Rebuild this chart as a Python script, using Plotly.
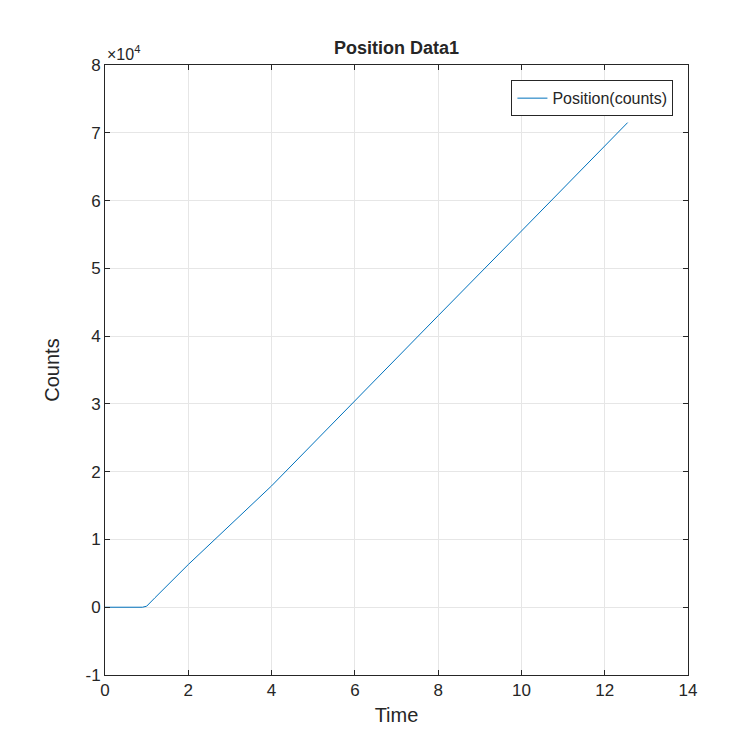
import plotly.graph_objects as go

time = [0, 0.3, 0.6, 0.9, 1.0, 1.2, 1.5, 2, 4, 6, 8, 10, 12.55]
counts = [0, -50, 0, 0, 150, 1400, 3200, 6300, 17900, 30500, 43000, 55500, 71500]
y_ticks = [-10000, 0, 10000, 20000, 30000, 40000, 50000, 60000, 70000, 80000]
y_labels = ["-1", "0", "1", "2", "3", "4", "5", "6", "7", "8"]

fig = go.Figure()
fig.add_trace(go.Scatter(x=time, y=counts, mode="lines", name="Position(counts)",
                         showlegend=True, line=dict(color="#0072BD", width=1)))

axis_style = dict(showline=True, linecolor="#262626", mirror="ticks", ticks="inside",
                  ticklen=5, tickcolor="#262626", showgrid=True, gridcolor="#e6e6e6",
                  zeroline=False, automargin=False, tickfont=dict(size=17, color="#262626"))
fig.update_xaxes(range=[0, 14], dtick=2,
                 title=dict(text="Time", font=dict(size=20, color="#262626"), standoff=8),
                 **axis_style)
fig.update_yaxes(range=[-10000, 80000], tickvals=y_ticks, ticktext=y_labels,
                 title=dict(text="Counts", font=dict(size=20, color="#262626"), standoff=20),
                 **axis_style)

fig.update_layout(
    width=750, height=750,
    font=dict(family="Liberation Sans, Arial", color="#262626"),
    title=dict(text="<b>Position Data1</b>", x=0.5, xanchor="center",
               xref="paper", y=0.955, font=dict(size=18, color="#262626")),
    plot_bgcolor="white", paper_bgcolor="white",
    margin=dict(l=97, r=70, t=57, b=83, autoexpand=False),
    legend=dict(x=0.975, y=0.975, xanchor="right", yanchor="top",
                bordercolor="#262626", borderwidth=1, bgcolor="white",
                font=dict(size=16), itemwidth=30),
    annotations=[dict(text="×10<sup>4</sup>", xref="paper", yref="paper", x=0, y=1.0,
                      xanchor="left", yanchor="bottom", showarrow=False,
                      font=dict(size=16, color="#262626"))],
)

fig.write_html("out.html")
